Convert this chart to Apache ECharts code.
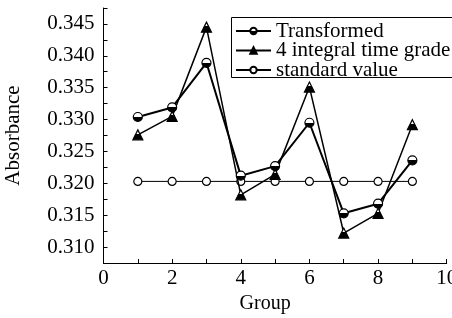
<!DOCTYPE html>
<html><head><meta charset="utf-8">
<script src="https://cdn.jsdelivr.net/npm/echarts@6/dist/echarts.min.js"></script>
<style>html,body{margin:0;padding:0;background:#fff}#c{width:452px;height:318px}</style>
</head><body><div id="c"></div>
<script>
const groups = [1, 2, 3, 4, 5, 6, 7, 8, 9];
const transformed = [0.3304, 0.3319, 0.3389, 0.3212, 0.3227, 0.3295, 0.3153, 0.3168, 0.3236];
const integral4 = [0.3276, 0.3305, 0.3445, 0.3182, 0.3214, 0.3351, 0.3122, 0.3153, 0.3292];
const standard = [0.3203, 0.3203, 0.3203, 0.3203, 0.3203, 0.3203, 0.3203, 0.3203, 0.3203];
const seriesNames = ['Transformed', '4 integral time grade', 'standard value'];

const FONT = "Liberation Serif";
const pair = arr => groups.map((g, i) => [g, arr[i]]);
const halfFill = {
  type: 'linear', x: 0, y: 0, x2: 0, y2: 1,
  colorStops: [{offset: 0, color: '#fff'}, {offset: 0.5, color: '#fff'}, {offset: 0.5, color: '#000'}, {offset: 1, color: '#000'}]
};
const triFill = {
  type: 'linear', x: 0, y: 0, x2: 0, y2: 1,
  colorStops: [{offset: 0, color: '#fff'}, {offset: 0.4, color: '#fff'}, {offset: 0.4, color: '#000'}, {offset: 1, color: '#000'}]
};

const chart = echarts.init(document.getElementById('c'));
chart.setOption({
  animation: false,
  backgroundColor: '#fff',
  textStyle: {fontFamily: FONT},
  grid: {left: 103.5, right: 5.3, top: 8, bottom: 55, containLabel: false, outerBoundsMode: 'none'},
  graphic: [{
    type: 'rect', left: 231, top: 17, z: 50,
    shape: {width: 240, height: 60},
    style: {fill: '#fff', stroke: '#000', lineWidth: 1}
  }],
  legend: {
    orient: 'vertical', left: 231, top: 17, z: 60,
    padding: [3.5, 40, 0, 4], itemGap: -1.5,
    itemWidth: 35, itemHeight: 8,
    borderWidth: 0,
    textStyle: {fontFamily: FONT, fontSize: 21, color: '#000'},
    data: seriesNames
  },
  xAxis: {
    type: 'value', min: 0, max: 10, interval: 1,
    name: 'Group', nameLocation: 'middle', nameGap: 31,
    nameTextStyle: {fontFamily: FONT, fontSize: 20, color: '#000', padding: [0, 20, 0, 0]},
    axisLine: {lineStyle: {color: '#000', width: 1}},
    axisTick: {inside: true, length: 4, lineStyle: {color: '#000'}},
    axisLabel: {fontFamily: FONT, fontSize: 21, color: '#000', margin: 5,
      formatter: v => (Math.round(v) % 2 === 0 ? String(v) : '')},
    splitLine: {show: false}
  },
  yAxis: {
    type: 'value', min: 0.3075, max: 0.3475, interval: 0.0025,
    name: 'Absorbance', nameLocation: 'middle', nameGap: 80,
    nameTextStyle: {fontFamily: FONT, fontSize: 21, color: '#000'},
    axisLine: {show: true, lineStyle: {color: '#000', width: 1}},
    axisTick: {show: true, inside: true, length: 4, lineStyle: {color: '#000'}},
    axisLabel: {fontFamily: FONT, fontSize: 21, color: '#000', margin: 9,
      formatter: v => (Math.round(v * 10000) % 50 === 0 ? v.toFixed(3) : '')},
    splitLine: {show: false}
  },
  series: [
    {
      name: seriesNames[0], type: 'line', data: pair(transformed),
      symbol: 'circle', symbolSize: 9, z: 3,
      lineStyle: {color: '#000', width: 2},
      itemStyle: {color: halfFill, borderColor: '#000', borderWidth: 1.2}
    },
    {
      name: seriesNames[1], type: 'line', data: pair(integral4),
      symbol: 'triangle', symbolSize: 10, z: 2,
      lineStyle: {color: '#000', width: 1.5},
      itemStyle: {color: triFill, borderColor: '#000', borderWidth: 1.2}
    },
    {
      name: seriesNames[2], type: 'line', data: pair(standard),
      symbol: 'circle', symbolSize: 8, z: 1,
      lineStyle: {color: '#000', width: 1},
      itemStyle: {color: '#fff', borderColor: '#000', borderWidth: 1.2}
    }
  ]
});
</script>
</body></html>
